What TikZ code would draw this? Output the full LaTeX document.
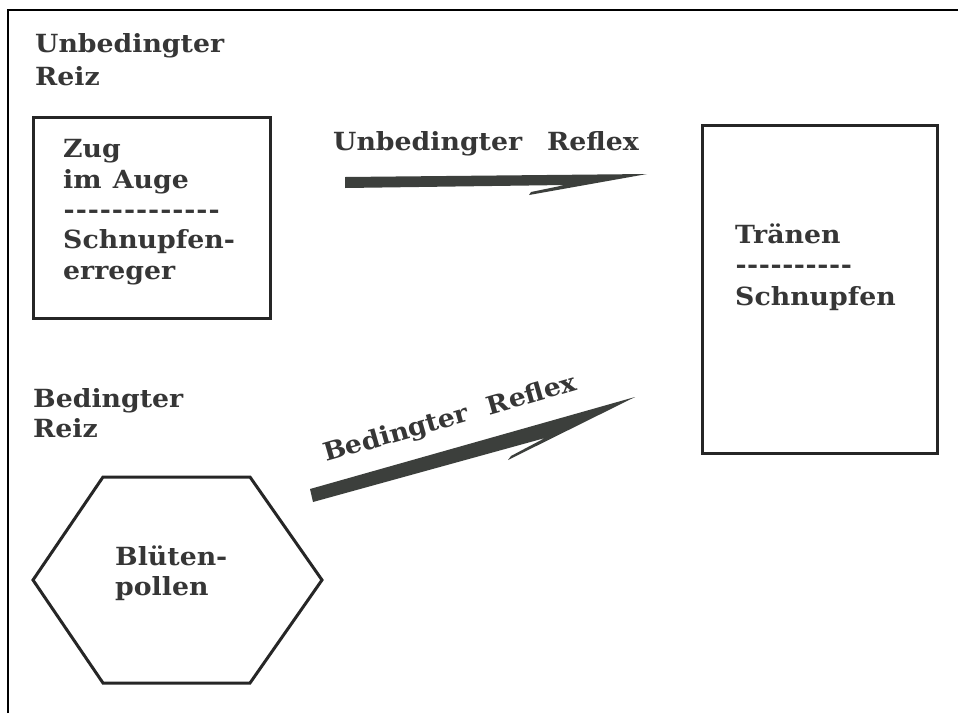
\documentclass[tikz,border=0pt]{standalone}
\usepackage{fontspec}
\newfontfamily\dvf{DejaVu Serif}[FakeStretch=1.07]
\definecolor{txtgray}{HTML}{363636}
\definecolor{linegray}{HTML}{262626}
\definecolor{arrowgray}{HTML}{3C3F3C}
\newcommand\dashrow[2]{\hbox to #1{\xleaders\hbox to #2{\hss-\hss}\hfill}}
\tikzset{
  lbl/.style={font=\dvf\bfseries\fontsize{25}{30}\selectfont, text=txtgray, inner sep=0pt, anchor=base west},
  boxline/.style={draw=linegray, line width=3pt},
  framel/.style={draw=black, line width=2pt},
  arrowfill/.style={fill=arrowgray, draw=none}
}
\begin{document}
\begin{tikzpicture}[x=1pt,y=-1pt]
\useasboundingbox[fill=white] (0,0) rectangle (958,713);
% frame
\coordinate (f0) at (8,713);
\coordinate (f1) at (8,10);
\coordinate (f2) at (958,10);
\draw[framel] (f0) -- (f1) -- (f2);
% labels
\node[lbl] (u1) at (35,52) {Unbedingter};
\node[lbl] (u2) at (35,85) {Reiz};
\node[lbl] (b1) at (33,407) {Bedingter};
\node[lbl] (b2) at (33,437) {Reiz};
% box 1
\node[boxline, minimum width=237pt, minimum height=201pt, inner sep=0pt] (box1) at (151.5,217.5) {};
\node[lbl] (z1) at (63,157) {Zug};
\node[lbl] (z2) at (63,188) {im\hspace{0.45em}Auge};
\node[lbl] (z3) at (63,218) {\dashrow{157pt}{12pt}};
\node[lbl] (z4) at (63,248) {Schnupfen-};
\node[lbl] (z5) at (63,279) {erreger};
% box 2
\node[boxline, minimum width=235pt, minimum height=328pt, inner sep=0pt] (box2) at (819.5,289) {};
\node[lbl] (t1) at (735,243) {Tränen};
\node[lbl] (t2) at (735,273) {\dashrow{117pt}{11.7pt}};
\node[lbl] (t3) at (735,305) {Schnupfen};
% hexagon
\coordinate (h1) at (103,477);
\coordinate (h2) at (250,477);
\coordinate (h3) at (322,580);
\coordinate (h4) at (250,683);
\coordinate (h5) at (103,683);
\coordinate (h6) at (33,580);
\draw[boxline, line join=miter] (h1) -- (h2) -- (h3) -- (h4) -- (h5) -- (h6) -- cycle;
\node[lbl] (p1) at (115,565) {Blüten-};
\node[lbl] (p2) at (115,595) {pollen};
% arrow 1
\node[lbl] (r1) at (333,150) {Unbedingter\hspace{1em}Reflex};
\fill[arrowfill] (345,177) -- (647,174) -- (529,195) -- (531,192) -- (565,185) -- (345,188) -- cycle;
% arrow 2
\node[lbl, rotate=16] (r2) at (326,462) {Bedingter\hspace{0.8em}Reflex};
\fill[arrowfill] (310,489) -- (635,397) -- (508,460) -- (511,456) -- (545,438) -- (313,502) -- cycle;
\end{tikzpicture}
\end{document}
